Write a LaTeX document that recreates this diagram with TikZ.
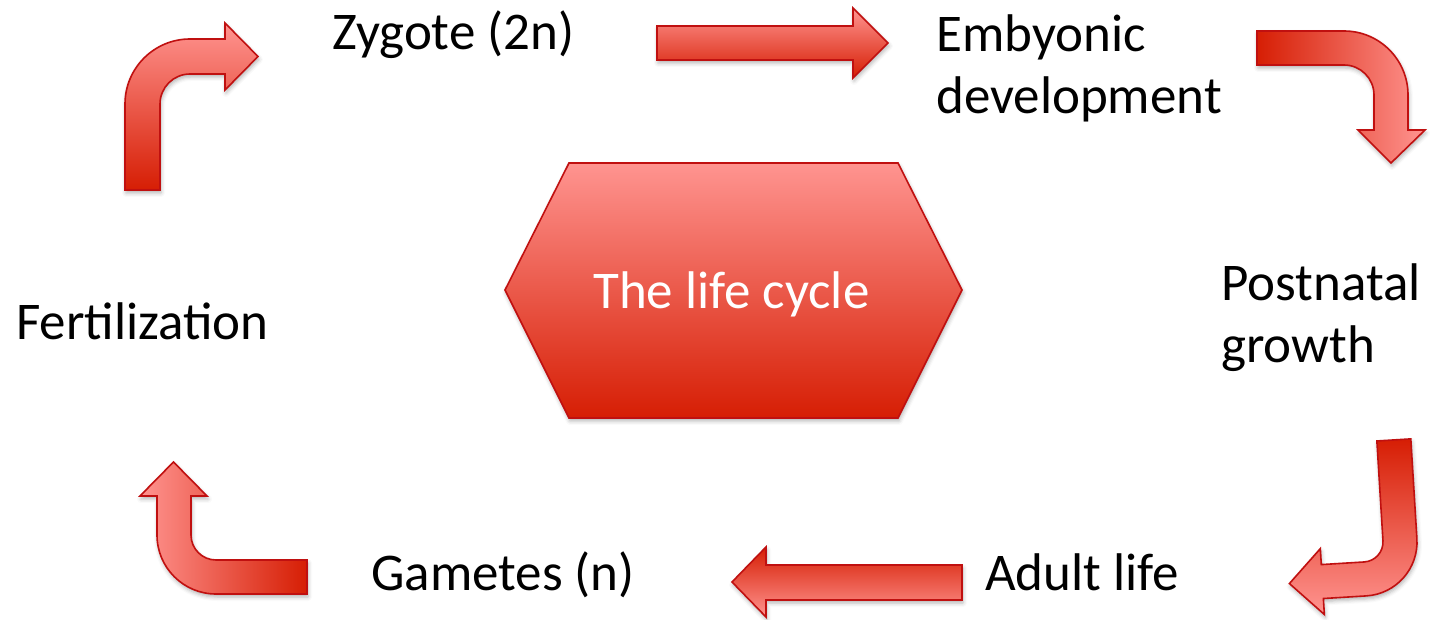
\documentclass[tikz,border=0pt]{standalone}
\usepackage{fontspec}
\setmainfont{Carlito}
\usetikzlibrary{shadows.blur}
\definecolor{lcRed}{RGB}{214,30,4}
\definecolor{lcPink}{RGB}{255,148,144}
\definecolor{lcEdge}{RGB}{192,16,16}
\begin{document}
\begin{tikzpicture}[x=1pt,y=1pt,
  stagetext/.style={font=\fontsize{53}{62}\selectfont, inner sep=0pt, anchor=base west, align=left},
  blockshape/.style={draw=lcEdge, line width=1.6pt, line join=miter,
    blur shadow={shadow xshift=1pt, shadow yshift=-3pt, shadow opacity=30, shadow blur radius=4pt}},
  upshade/.style={bottom color=lcRed, top color=lcPink},
  downshade/.style={top color=lcRed, bottom color=lcPink},
  rightshade/.style={left color=lcRed, right color=lcPink},
  leftshade/.style={left color=lcPink, right color=lcRed}
]
\useasboundingbox (0,0) rectangle (1430,619);

% central hexagon
\path[blockshape, upshade] (505,329) -- (569,456) -- (898,456) -- (962,329)
  -- (898,201) -- (569,201) -- cycle;
\node[stagetext, text=white] (hub) at (593,310) {The life cycle};

% straight block arrows
\path[blockshape, upshade] (657,559) -- (853,559) -- (853,541) -- (888,576)
  -- (853,611) -- (853,593) -- (657,593) -- cycle;
\path[blockshape, downshade] (962,19) -- (766,19) -- (766,2) -- (732,37)
  -- (766,72) -- (766,54) -- (962,54) -- cycle;

% bent arrow: fertilization -> zygote
\path[blockshape, upshade] (125,429) -- (125,515)
  arc[start angle=180, end angle=90, radius=65] -- (225,580) -- (225,596)
  -- (258,562.5) -- (225,529) -- (225,545) -- (190,545)
  arc[start angle=90, end angle=180, radius=30] -- (160,429) -- cycle;

% bent arrow: embryonic development -> postnatal growth
\path[blockshape, rightshade] (1257,588) -- (1344,588)
  arc[start angle=90, end angle=0, radius=64] -- (1408,489) -- (1425,489)
  -- (1391,456) -- (1358,489) -- (1374,489) -- (1374,524)
  arc[start angle=0, end angle=90, radius=30] -- (1257,554) -- cycle;

% bent arrow: gametes -> fertilization
\path[blockshape, leftshade] (307,25) -- (216,25)
  arc[start angle=270, end angle=180, radius=59] -- (157,123) -- (140,123)
  -- (173.5,157) -- (207,123) -- (191,123) -- (191,84)
  arc[start angle=180, end angle=270, radius=25] -- (307,59) -- cycle;

% bent arrow: postnatal growth -> adult life (slightly tilted)
\begin{scope}[shift={(1363,77)}, rotate=3.5]
\path[blockshape, downshade] (20,100) -- (54,100) -- (54,0)
  arc[start angle=0, end angle=-90, radius=54] -- (-43,-54) -- (-43,-70)
  -- (-76,-37) -- (-43,-4) -- (-43,-20) -- (0,-20)
  arc[start angle=-90, end angle=0, radius=20] -- cycle;
\end{scope}

% stage labels (two-line labels sit on the baseline of their last line)
\node[stagetext] (zygote) at (332,569) {Zygote (2n)};
\node[stagetext] (embryo) at (936,505) {Embyonic\\development};
\node[stagetext] (postnatal) at (1221,256) {Postnatal\\growth};
\node[stagetext] (fert) at (16,279) {Fertilization};
\node[stagetext] (gametes) at (371,29) {Gametes (n)};
\node[stagetext] (adult) at (985,29) {Adult life};
\end{tikzpicture}
\end{document}
